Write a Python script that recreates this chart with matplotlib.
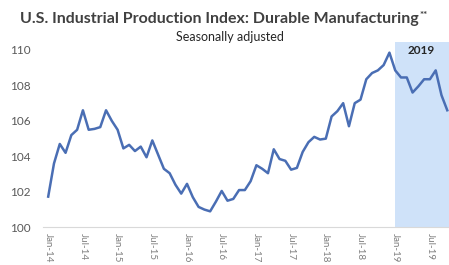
import numpy as np
import matplotlib
matplotlib.use("Agg")
import matplotlib.pyplot as plt

plt.rcParams["font.family"] = ["Lato", "DejaVu Sans"]

# monthly index values, Jan-14 .. Oct-19
values = [101.73, 103.6, 104.7, 104.2, 105.2, 105.5, 106.6, 105.5, 105.55, 105.65, 106.6, 106.0,
          105.5, 104.45, 104.65, 104.3, 104.55, 103.95, 104.9, 104.1, 103.3, 103.05, 102.4, 101.9,
          102.45, 101.7, 101.15, 101.0, 100.9, 101.45, 102.05, 101.5, 101.6, 102.1, 102.1, 102.6,
          103.5, 103.3, 103.05, 104.4, 103.85, 103.75, 103.25, 103.35, 104.25, 104.8, 105.1, 104.95,
          105.0, 106.25, 106.55, 107.0, 105.7, 107.0, 107.2, 108.35, 108.7, 108.85, 109.15, 109.85,
          108.85, 108.45, 108.45, 107.6, 107.95, 108.35, 108.35, 108.85, 107.45, 106.6]
tick_labels = ["Jan-14", "Jul-14", "Jan-15", "Jul-15", "Jan-16", "Jul-16",
               "Jan-17", "Jul-17", "Jan-18", "Jul-18", "Jan-19", "Jul-19"]
yticks = [100, 102, 104, 106, 108, 110]
highlight_start = 60  # Jan-19
highlight_label = "2019"

W, H = 449, 265
fig = plt.figure(figsize=(W / 100, H / 100), dpi=100)
ax = fig.add_axes([43 / W, 1 - 227.3 / H, 1 - 43 / W, (227.3 - 42) / H])

x = np.arange(len(values))
xmax = 69.3
ax.axvspan(highlight_start, xmax, color="#cfe2f9", lw=0, zorder=0)
ax.plot(x, values, color="#4a6eb4", lw=1.8, zorder=3)

ax.set_xlim(-0.9, xmax)
ax.set_ylim(100, 110.45)
ax.set_yticks(yticks)
ax.set_yticklabels([str(v) for v in yticks], fontsize=8.5, color="#595959")
ax.set_xticks(np.arange(0, len(values), 6))
ax.set_xticklabels(tick_labels, rotation=-90, fontsize=7, color="#7f7f7f")
ax.tick_params(axis="both", length=0)
ax.tick_params(axis="y", pad=9)
ax.tick_params(axis="x", pad=4)
for s in ["top", "right", "left"]:
    ax.spines[s].set_visible(False)
ax.spines["bottom"].set_color("#d9d9d9")
ax.spines["bottom"].set_linewidth(0.8)

ax.text(421 / W, 1 - 51 / H, highlight_label, transform=fig.transFigure,
        ha="center", va="center", fontsize=8.5, fontweight="bold", color="#262626")

t = fig.text(219 / W, 1 - 18.5 / H, "U.S. Industrial Production Index: Durable Manufacturing",
             ha="center", va="center", fontsize=11.5, fontweight="bold", color="#404040")
fig.text(230 / W, 1 - 37 / H, "Seasonally adjusted", ha="center", va="center",
         fontsize=9, color="#262626")

fig.canvas.draw()
bb = t.get_window_extent()
fig.text((bb.x1 + 1) / W, (bb.y1 + 1) / H, "**", ha="left", va="top",
         fontsize=7, fontweight="bold", color="#404040")

fig.savefig("out.png", dpi=100)
